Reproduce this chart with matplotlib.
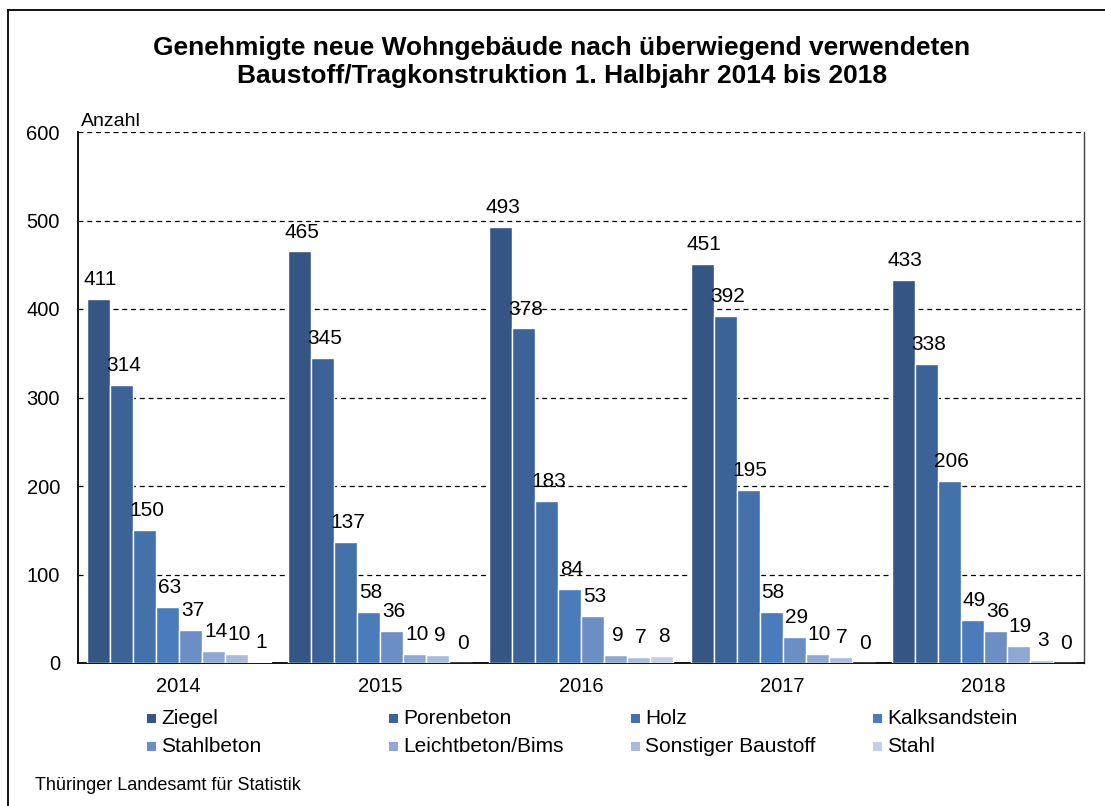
import numpy as np
import matplotlib
matplotlib.use('Agg')
import matplotlib.pyplot as plt
from matplotlib.patches import Rectangle
from matplotlib.lines import Line2D

plt.rcParams['font.family'] = ['Liberation Sans', 'DejaVu Sans']

# data
years = ['2014', '2015', '2016', '2017', '2018']
materials = ['Ziegel', 'Porenbeton', 'Holz', 'Kalksandstein',
             'Stahlbeton', 'Leichtbeton/Bims', 'Sonstiger Baustoff', 'Stahl']
ziegel = [411, 465, 493, 451, 433]
porenbeton = [314, 345, 378, 392, 338]
holz = [150, 137, 183, 195, 206]
kalksandstein = [63, 58, 84, 58, 49]
stahlbeton = [37, 36, 53, 29, 36]
leichtbeton = [14, 10, 9, 10, 19]
sonstiger = [10, 9, 7, 7, 3]
stahl = [1, 0, 8, 0, 0]
series = [ziegel, porenbeton, holz, kalksandstein,
          stahlbeton, leichtbeton, sonstiger, stahl]
y_ticks = [0, 100, 200, 300, 400, 500, 600]

colors = ['#355685', '#3b6398', '#4371a9', '#4a7cbb',
          '#6b8fc4', '#8ea7d3', '#a9bbdd', '#c4cfe7']

W, H = 1105, 806
fig = plt.figure(figsize=(W / 100, H / 100), dpi=100)
ax = fig.add_axes([78 / W, 1 - 663 / H, (1084 - 78) / W, (663 - 132) / H])

x = np.arange(len(years))
bw = 23 / 201.2
start = -0.5 + 9 / 201.2
for i, (vals, col) in enumerate(zip(series, colors)):
    left = x + start + i * bw
    ax.bar(left, vals, width=bw, align='edge', color=col,
           edgecolor='white', linewidth=1, zorder=3)
    for xl, v in zip(left, vals):
        ax.annotate(str(v), (xl + bw / 2, v), xytext=(1.5, 14),
                    textcoords='offset points', ha='center', va='center',
                    fontsize=15, color='black', zorder=4)

ax.set_xlim(-0.5, len(years) - 0.5)
ax.set_ylim(0, 600)
ax.set_yticks(y_ticks)
ax.set_yticklabels([str(t) for t in y_ticks], fontsize=14.5)
ax.set_xticks(x)
ax.set_xticklabels(years, fontsize=14.5)
ax.tick_params(axis='y', length=0, pad=13)
ax.tick_params(axis='x', length=0, pad=10)
ax.yaxis.grid(True, linestyle=(0, (4, 3)), color='black', linewidth=0.9, zorder=0)
ax.set_axisbelow(True)
ax.spines['top'].set_visible(False)
ax.spines['left'].set_linewidth(1.3)
ax.spines['bottom'].set_linewidth(1.3)
ax.spines['right'].set_color('#404040')
ax.spines['right'].set_linewidth(1.0)

ax.text(0.003, 1.003, 'Anzahl', transform=ax.transAxes, ha='left', va='bottom',
        fontsize=14)

fig.text(562 / W, 1 - 62 / H,
         'Genehmigte neue Wohngebäude nach überwiegend verwendeten\n'
         'Baustoff/Tragkonstruktion 1. Halbjahr 2014 bis 2018',
         ha='center', va='center', fontsize=19, fontweight='bold',
         linespacing=1.2)

# legend, laid out like the original (uniform columns)
col_x = [147, 389, 631, 873]
row_y = [718, 746]
for k, (name, col) in enumerate(zip(materials, colors)):
    cx = col_x[k % 4]
    cy = row_y[k // 4]
    fig.add_artist(Rectangle((cx / W, 1 - (cy + 4.5) / H), 9 / W, 9 / H,
                             transform=fig.transFigure, facecolor=col,
                             edgecolor='none'))
    fig.text((cx + 14) / W, 1 - cy / H, name, ha='left', va='center', fontsize=15)

fig.text(35 / W, 1 - 786 / H, 'Thüringer Landesamt für Statistik',
         ha='left', va='center', fontsize=13)

# outer frame (left and top edges visible)
fig.add_artist(Line2D([8 / W, 8 / W], [0, 1 - 10 / H], transform=fig.transFigure,
                      color='black', linewidth=1.3))
fig.add_artist(Line2D([8 / W, 1], [1 - 10 / H, 1 - 10 / H], transform=fig.transFigure,
                      color='black', linewidth=1.3))

fig.savefig('out.png', dpi=100)
